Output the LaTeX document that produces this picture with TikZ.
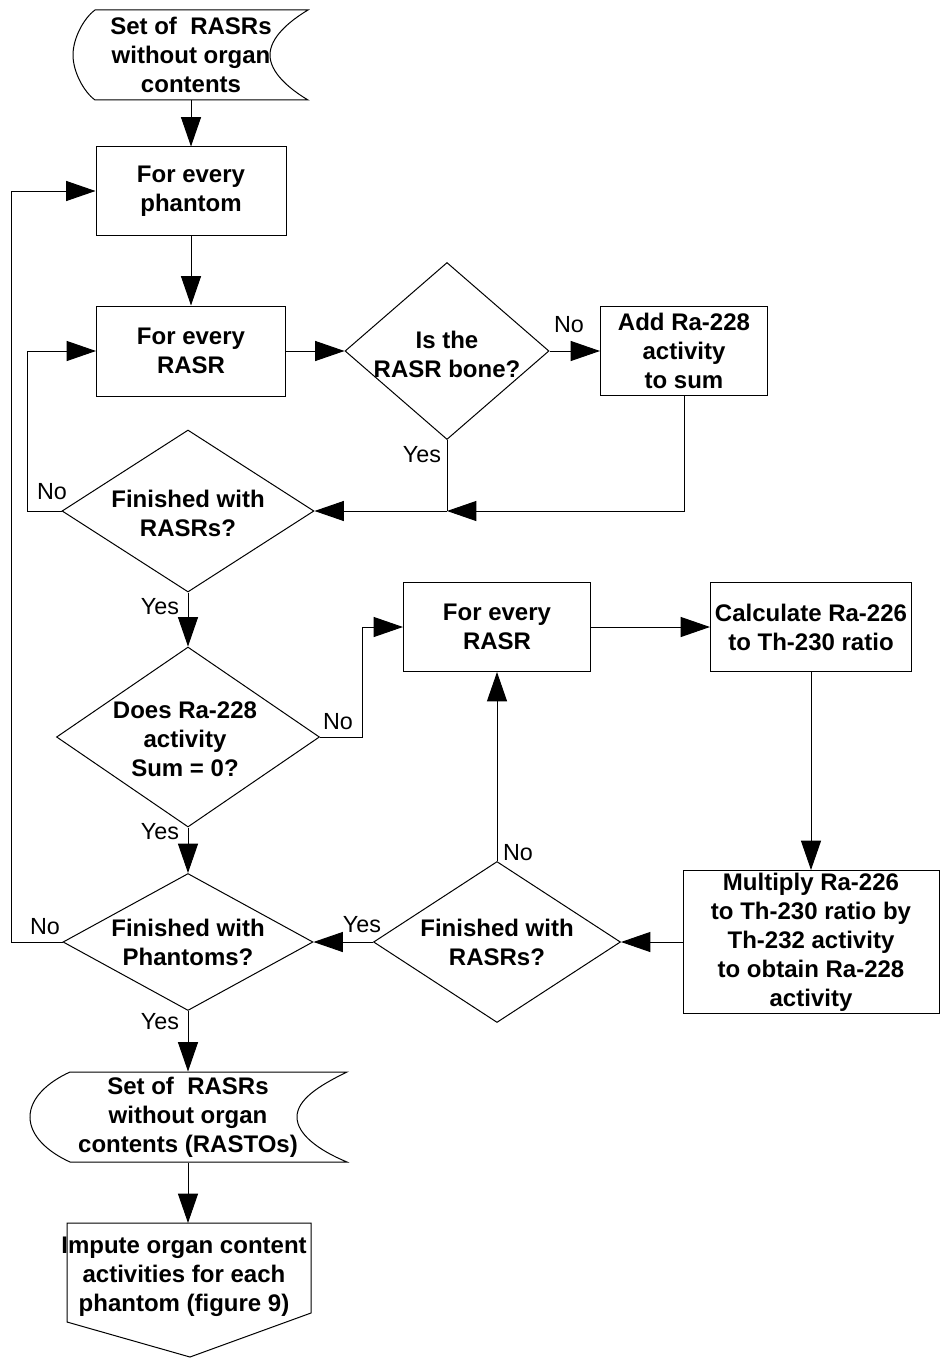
\documentclass[tikz,border=0pt]{standalone}
\usepackage{fontspec}
\setmainfont{Liberation Sans}
\usetikzlibrary{arrows.meta,shapes.geometric,calc}
\begin{document}
\begin{tikzpicture}[x=0.75pt,y=-0.75pt,
  line width=0.75pt,
  every node/.style={inner sep=0pt},
  txt/.style={font=\fontsize{18}{21.75}\selectfont\bfseries, align=center},
  procbox/.style={draw, rectangle, txt},
  decision/.style={draw, diamond},
  lbl/.style={font=\fontsize{17.5}{20}\selectfont},
  arr/.style={-{Triangle[length=22pt,width=15pt]}},
]
\useasboundingbox (0,0) rectangle (943,1366);

% ---- stored-data source at the top
\draw (95,10) -- (308,10) .. controls (288,22) and (270,38) .. (270,55)
      .. controls (270,72) and (288,88) .. (308,100) -- (95,100)
      .. controls (84,92) and (73,72) .. (73,55)
      .. controls (73,38) and (84,18) .. (95,10) -- cycle;
\node[txt, minimum width=176.25pt, minimum height=67.5pt] (src) at (191,55)
  {Set of~~RASRs\\without organ\\contents};

% ---- process boxes
\node[procbox, minimum width=142.5pt, minimum height=66pt] (phant) at (191,191) {For every\\phantom};
\node[procbox, minimum width=141.75pt, minimum height=67.5pt] (rasrA) at (191,351) {For every\\RASR};
\node[procbox, minimum width=125.25pt, minimum height=66.75pt] (addsum) at (684,351) {Add Ra-228\\activity\\to sum};
\node[procbox, minimum width=140.25pt, minimum height=66.75pt] (rasrB) at (497,627) {For every\\RASR};
\node[procbox, minimum width=150.75pt, minimum height=66.75pt] (ratio) at (811,627) {Calculate Ra-226\\to Th-230 ratio};
\node[procbox, minimum width=192pt, minimum height=107.25pt] (mult) at (811,942)
  {Multiply Ra-226\\to Th-230 ratio by\\Th-232 activity\\to obtain Ra-228\\activity};

% ---- decisions
\node[decision, minimum width=153pt, minimum height=132.75pt] (bone) at (447,351) {};
\node[txt] (boneT) at (447,354) {Is the\\RASR bone?};
\node[decision, minimum width=189pt, minimum height=121.5pt] (finA) at (188,511) {};
\node[txt] (finAT) at (188,513) {Finished with\\RASRs?};
\node[decision, minimum width=197.25pt, minimum height=135pt] (zero) at (188,737) {};
\node[txt] (zeroT) at (185,739) {Does Ra-228\\activity\\Sum = 0?};
\node[decision, minimum width=185.25pt, minimum height=120.75pt] (finB) at (497,942) {};
\node[txt] (finBT) at (497,942) {Finished with\\RASRs?};
\node[decision, minimum width=187.5pt, minimum height=102.75pt] (finP) at (188,942) {};
\node[txt] (finPT) at (188,942) {Finished with\\Phantoms?};

% ---- stored-data result
\draw (70,1072) -- (347,1072) .. controls (318,1086) and (297,1100) .. (297,1117)
      .. controls (297,1134) and (318,1150) .. (347,1162) -- (70,1162)
      .. controls (48,1152) and (30,1136) .. (30,1117)
      .. controls (30,1098) and (48,1082) .. (70,1072) -- cycle;
\node[txt, minimum width=237.75pt, minimum height=67.5pt] (rasto) at (188,1117)
  {Set of~~RASRs\\without organ\\contents (RASTOs)};

% ---- off-page connector
\draw (67,1223) -- (311,1223) -- (311,1313) -- (190,1357) -- (67,1322) -- cycle;
\coordinate (impTop) at (188,1223);
\node[txt] (impute) at (184,1277) {Impute organ content\\activities for each\\phantom (figure 9)};

% ---- connectors
\draw[arr] (src.south) -- (phant.north);
\draw[arr] (phant.south) -- (rasrA.north);
\draw[arr] (rasrA.east) -- (bone.west);
\draw[arr] (bone.east) -- (addsum.west);
\coordinate (join) at (bone.south |- finA.east);
\draw[arr] (addsum.south) |- (join);
\draw (bone.south) -- (join);
\draw[arr] (join) -- (finA.east);
\draw[arr] (finA.west) -- ++(-34,0) |- (rasrA.west);
\draw[arr] (finA.south) -- (zero.north);
\draw[arr] (zero.east) -- ++(42,0) |- (rasrB.west);
\draw[arr] (zero.south) -- (finP.north);
\draw[arr] (rasrB.east) -- (ratio.west);
\draw[arr] (ratio.south) -- (mult.north);
\draw[arr] (mult.west) -- (finB.east);
\draw[arr] (finB.north) -- (rasrB.south);
\draw[arr] (finB.west) -- (finP.east);
\draw[arr] (finP.west) -- ++(-51,0) |- (phant.west);
\draw[arr] (finP.south) -- (rasto.north);
\draw[arr] (rasto.south) -- (impTop);

% ---- branch labels
\node[lbl] (lNo1) at (569,325) {No};
\node[lbl] (lYes1) at (422,455) {Yes};
\node[lbl] (lNo2) at (52,492) {No};
\node[lbl] (lYes2) at (160,607) {Yes};
\node[lbl] (lNo3) at (338,722) {No};
\node[lbl] (lYes3) at (160,832) {Yes};
\node[lbl] (lNo4) at (518,853) {No};
\node[lbl] (lYes4) at (362,925) {Yes};
\node[lbl] (lNo5) at (45,927) {No};
\node[lbl] (lYes5) at (160,1022) {Yes};
\end{tikzpicture}
\end{document}
